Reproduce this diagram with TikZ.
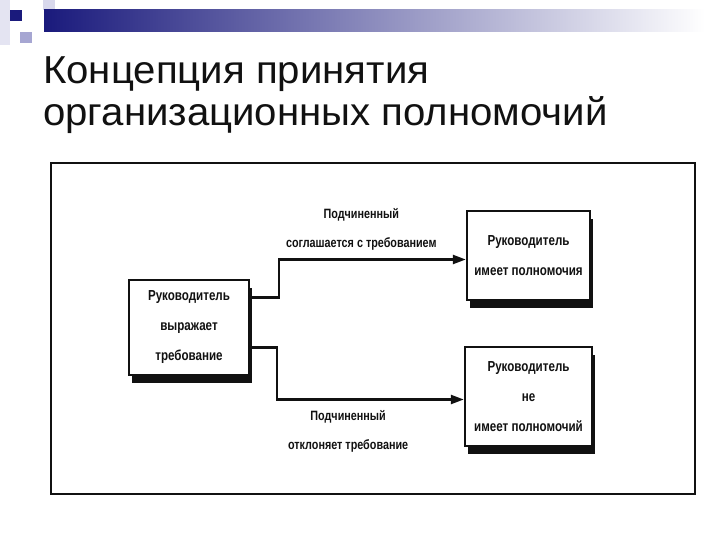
\documentclass[tikz,border=0pt]{standalone}
\usepackage{fontspec}
\setmainfont{Liberation Sans}
\newfontfamily\narrowfont[FakeStretch=0.8]{Liberation Sans}
\newfontfamily\titlefont[FakeStretch=1.03]{Liberation Sans}
\usetikzlibrary{arrows.meta,positioning,shadows}
\definecolor{navy}{HTML}{1A1A7C}
\definecolor{lav}{HTML}{A6A6D2}
\definecolor{lavlight}{HTML}{D8D8EC}
\definecolor{ink}{HTML}{111111}

\begin{document}
\begin{tikzpicture}[
  x=1pt, y=-1pt,
  >={Triangle[length=13pt,width=9pt]},
  every node/.append style={text=ink},
  box/.style={draw=ink, line width=2.4pt, fill=white, align=center, inner sep=0pt,
    font=\narrowfont\bfseries\fontsize{14.5}{30}\selectfont,
    drop shadow={shadow xshift=3pt, shadow yshift=-8pt, fill=ink, opacity=1}},
  lbl/.style={align=center, font=\narrowfont\bfseries\fontsize{13.5}{29}\selectfont},
  link/.style={->, draw=ink, line width=2.4pt},
]
\useasboundingbox (0,0) rectangle (720,540);

% Slide header
\fill[lavlight!70] (0,0) rectangle (10,45);
\fill[lavlight] (43,0) rectangle (55,10);
\shade[left color=navy, right color=white] (44,10) rectangle (705,32);
\fill[navy] (10,10) rectangle (22,21);
\fill[lav] (20,32) rectangle (32,43);
\node[anchor=base west, inner sep=0pt, align=left, font=\titlefont\fontsize{39}{42}\selectfont] (title) at (43,126)
  {Концепция принятия\\организационных полномочий};

% Frame
\draw[draw=ink, line width=2pt] (51,163) rectangle (695,494);

% Boxes
\node[box, minimum width=120pt, minimum height=95pt] (lead) at (189,327.5)
  {Руководитель\\выражает\\требование};
\node[box, minimum width=123pt, minimum height=89pt] (yes) at (528.5,255.5)
  {Руководитель\\имеет полномочия};
\node[box, minimum width=127pt, minimum height=99pt] (no) at (528.5,396.5)
  {Руководитель\\не\\имеет полномочий};

% Connectors
\draw[link] ([yshift=30pt]lead.east) -- ++(29,0) |-
  node[lbl, pos=0.72, above=5pt] {Подчиненный\\соглашается с требованием} ([yshift=-4pt]yes.west);
\draw[link] ([yshift=-20pt]lead.east) -- ++(27,0) |-
  node[lbl, pos=0.69, below=6pt] {Подчиненный\\отклоняет требование} ([yshift=-3pt]no.west);

\end{tikzpicture}
\end{document}
